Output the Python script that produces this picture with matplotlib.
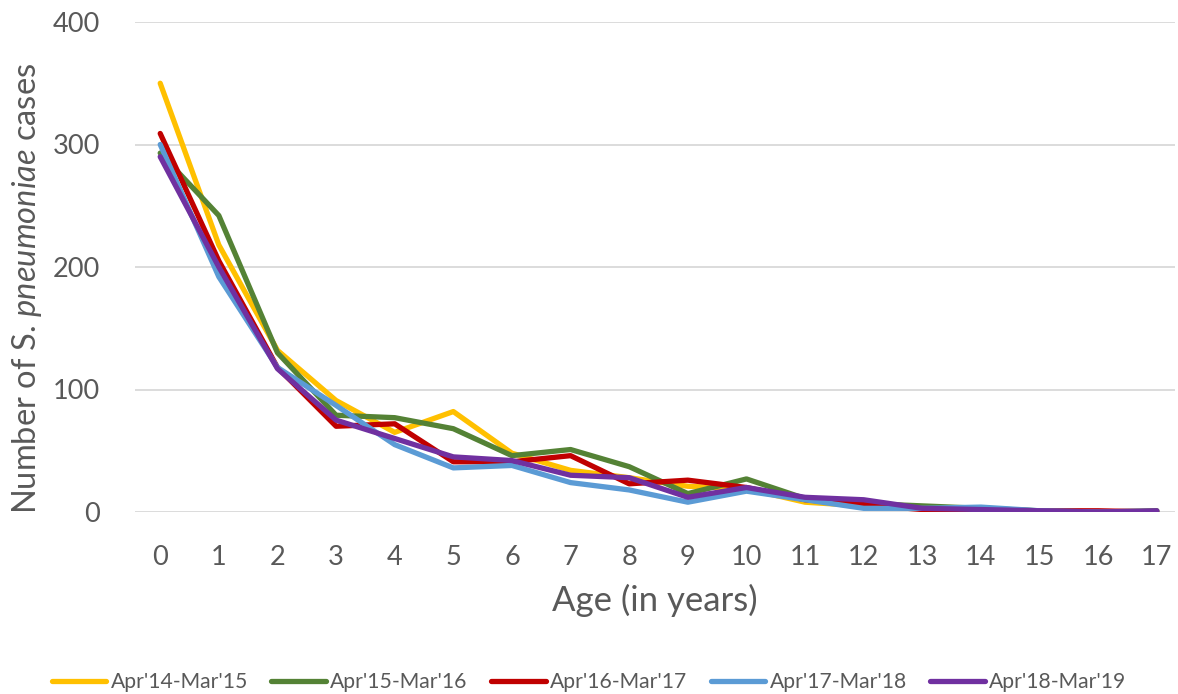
import matplotlib.pyplot as plt
import numpy as np

plt.switch_backend("agg")

ages = list(range(18))

# cases per age, one list per season
apr14_mar15 = [350, 218, 132, 91, 65, 82, 48, 34, 28, 21, 19, 8, 5, 3, 1, 0, 0, 0]
apr15_mar16 = [293, 242, 130, 79, 77, 68, 46, 51, 37, 15, 27, 11, 7, 5, 3, 1, 0, 1]
apr16_mar17 = [309, 205, 118, 70, 72, 41, 41, 46, 23, 26, 20, 10, 6, 2, 2, 1, 1, 0]
apr17_mar18 = [300, 192, 118, 87, 55, 36, 38, 24, 18, 8, 17, 10, 3, 3, 4, 1, 0, 0]
apr18_mar19 = [290, 200, 117, 75, 60, 45, 42, 30, 28, 12, 20, 12, 10, 3, 2, 1, 0, 1]

series = [
    ("Apr'14-Mar'15", apr14_mar15, "#FFC000"),
    ("Apr'15-Mar'16", apr15_mar16, "#548235"),
    ("Apr'16-Mar'17", apr16_mar17, "#C00000"),
    ("Apr'17-Mar'18", apr17_mar18, "#5B9BD5"),
    ("Apr'18-Mar'19", apr18_mar19, "#7030A0"),
]

grey = "#595959"
plt.rcParams["font.family"] = ["Lato", "DejaVu Sans"]
plt.rcParams["mathtext.fontset"] = "custom"
plt.rcParams["mathtext.it"] = "Lato:italic"
plt.rcParams["mathtext.rm"] = "Lato"

fig = plt.figure(figsize=(11.78, 6.94), dpi=100)
ax = fig.add_axes([135 / 1178, 1 - 512 / 694, (1175 - 135) / 1178, (512 - 22) / 694])

for label, vals, color in series:
    ax.plot(ages, vals, color=color, lw=3.8, label=label, solid_capstyle="round",
            solid_joinstyle="round")

ax.set_xlim(-0.43, 17.31)
ax.set_ylim(0, 400)
ax.set_yticks(np.arange(0, 401, 100))
ax.set_xticks(ages)
ax.yaxis.grid(True, color="#D9D9D9", lw=1.3)
ax.set_axisbelow(True)
for s in ax.spines.values():
    s.set_visible(False)
ax.tick_params(length=0, labelsize=19.5, colors=grey)
ax.tick_params(axis="x", pad=24)
ax.tick_params(axis="y", pad=25)

ax.set_xlabel("Age (in years)", fontsize=25, color=grey, labelpad=10)
# y label placed on the figure so it stays inside the left edge
fig.text(27 / 1178, 1 - 288 / 694, r"Number of S. $\it{pneumoniae}$ cases", fontsize=23.5,
         color=grey, rotation=90, ha="center", va="center")

ax.legend(loc="center", bbox_to_anchor=(0.5, 1 - 682 / 694), bbox_transform=fig.transFigure,
          ncol=5, frameon=False, fontsize=15.2, labelcolor=grey, handlelength=2.6,
          columnspacing=1.1, handletextpad=0.2)

fig.savefig("out.png", dpi=100)
